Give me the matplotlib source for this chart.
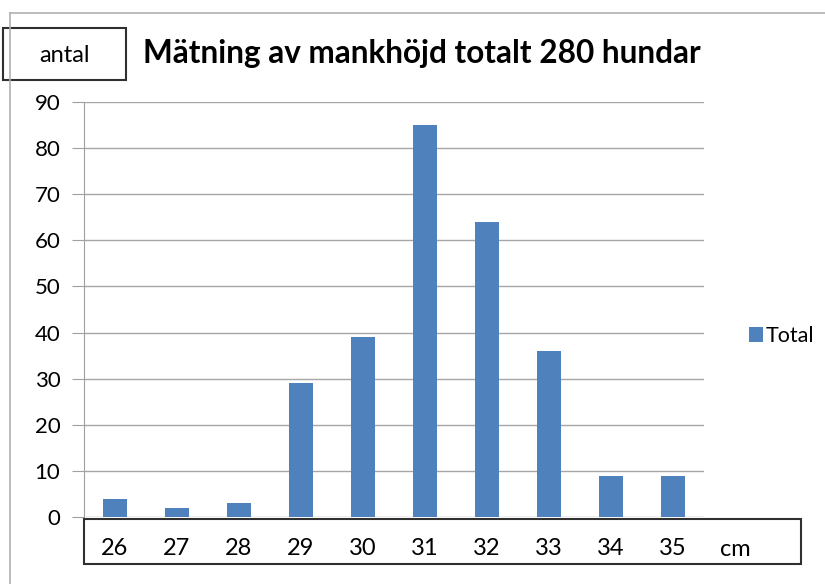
import matplotlib
matplotlib.use("Agg")
import matplotlib.pyplot as plt
from matplotlib.patches import Rectangle
from matplotlib.lines import Line2D
import matplotlib.transforms as mtransforms

plt.rcParams['font.family'] = ['Lato', 'DejaVu Sans']

# data
heights_cm = [26, 27, 28, 29, 30, 31, 32, 33, 34, 35]
antal = [4, 2, 3, 29, 39, 85, 64, 36, 9, 9]
yticks = [0, 10, 20, 30, 40, 50, 60, 70, 80, 90]

W, H = 825, 584
fig = plt.figure(figsize=(W / 100, H / 100), dpi=100)

def fx(px):
    return px / W

def fy(py):
    return 1 - py / H

ax = fig.add_axes([fx(84), fy(517), fx(704) - fx(84), fy(102) - fy(517)])

bar_color = '#4F81BD'
ax.bar(heights_cm, antal, width=0.4, color=bar_color, label='Total', zorder=3)

ax.set_xlim(25.5, 35.5)
ax.set_ylim(0, 90)
ax.set_yticks(yticks)
ax.set_xticks(heights_cm)
ax.set_xticklabels([str(h) for h in heights_cm])

ax.grid(axis='y', color='#A6A6A6', linewidth=1, zorder=0)
for s in ['top', 'right', 'bottom']:
    ax.spines[s].set_visible(False)
ax.spines['left'].set_color('#A0A0A0')
ax.tick_params(axis='y', length=9, color='#A0A0A0', labelsize=16, pad=8)
ax.tick_params(axis='x', length=0, labelsize=17, pad=15)

# unit label after last category
trans = mtransforms.blended_transform_factory(ax.transData, ax.transAxes)
ax.text(36, -0.078, 'cm', transform=trans, ha='center', va='center',
        fontsize=17, clip_on=False)

# x label box
fig.patches.append(Rectangle((fx(84), fy(564)), fx(801) - fx(84), fy(519) - fy(564),
                             transform=fig.transFigure, fill=False,
                             edgecolor='#303030', linewidth=1.5))

# y label box
fig.patches.append(Rectangle((fx(3), fy(80)), fx(126) - fx(3), fy(28) - fy(80),
                             transform=fig.transFigure, fill=False,
                             edgecolor='#303030', linewidth=1.5))
fig.text(fx(64), fy(55), 'antal', ha='center', va='center', fontsize=17)

# title
fig.text(fx(143), fy(53), 'Mätning av mankhöjd totalt 280 hundar',
         ha='left', va='center', fontsize=22.7, fontweight='bold')

# outer frame lines
fig.add_artist(Line2D([fx(10), 1], [fy(13), fy(13)], color='#B0B0B0', linewidth=1.2))
fig.add_artist(Line2D([fx(10), fx(10)], [0, fy(13)], color='#B0B0B0', linewidth=1.2))

# legend
ax.legend(loc='center left', bbox_to_anchor=(fx(738), fy(336)),
          bbox_transform=fig.transFigure, frameon=False, fontsize=15.5,
          handlelength=0.65, handleheight=0.65, handletextpad=0.15, borderpad=0)

fig.savefig('out.png', dpi=100)
